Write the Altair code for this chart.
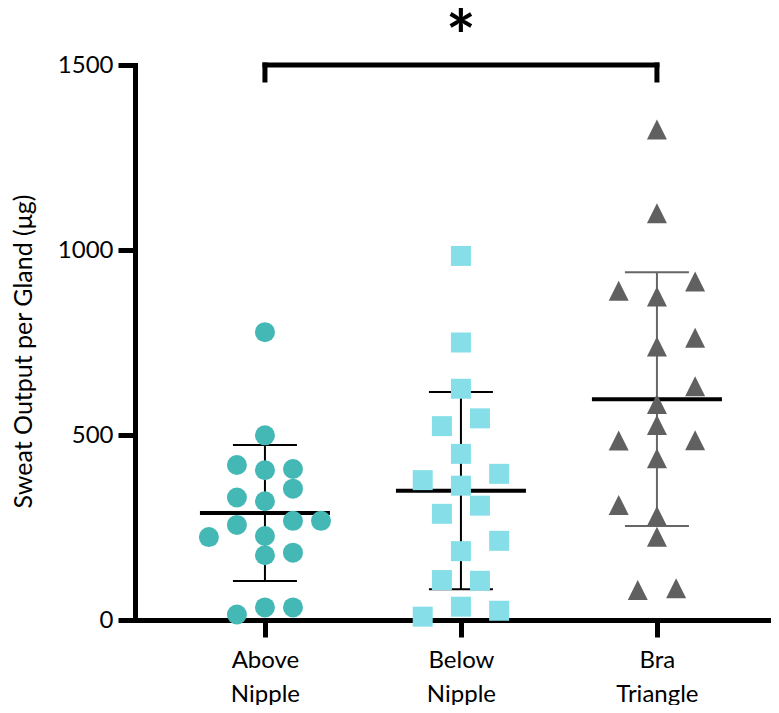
import altair as alt
import pandas as pd

groups = ["Above Nipple", "Below Nipple", "Bra Triangle"]
colors = ["#43B8B4", "#86DFE8", "#606060"]
bar_colors = ["#000000", "#000000", "#666666"]

above_vals = [778, 499, 419, 405, 408, 355, 331, 321, 257, 268, 268, 224, 227, 175, 182, 15, 34, 34]
above_jit = [0, 0, -0.143, 0, 0.143, 0.143, -0.143, 0, -0.143, 0.143, 0.286, -0.286, 0, 0, 0.143, -0.143, 0, 0.143]

below_vals = [984, 750, 625, 524, 545, 449, 378, 363, 395, 287, 309, 214, 186, 108, 106, 9, 36, 25]
below_jit = [0, 0, 0, -0.097, 0.097, 0, -0.195, 0, 0.195, -0.097, 0.097, 0.195, 0, -0.097, 0.097, -0.195, 0, 0.195]

bra_vals = [1326, 1099, 890, 915, 874, 763, 739, 632, 584, 527, 485, 486, 437, 311, 281, 225, 81, 86]
bra_jit = [0, 0, -0.195, 0.195, 0, 0.195, 0, 0.195, 0, 0, -0.195, 0.195, 0, -0.195, 0, 0, -0.098, 0.098]

sig_pair = [1, 3]
sig_level = 1500
sig_text = "*"

rows = []
for i, (g, vals, jits) in enumerate(zip(groups, [above_vals, below_vals, bra_vals], [above_jit, below_jit, bra_jit])):
    for v, j in zip(vals, jits):
        rows.append({"group": g, "idx": i + 1, "value": v, "xpos": i + 1 + j})
df = pd.DataFrame(rows)

bracket = pd.DataFrame([{"x1": sig_pair[0], "x2": sig_pair[1], "y": sig_level, "label": sig_text}])

label_expr = ""
for i, g in enumerate(groups):
    parts = g.split(" ")
    arr = "[" + ",".join("'" + p + "'" for p in parts) + "]"
    label_expr += f"datum.value == {i + 1} ? {arr} : "
label_expr += "''"

FONT = "Lato"

xscale = alt.Scale(domain=[0.337, 3.582], nice=False, zero=False)
yscale = alt.Scale(domain=[0, 1500], nice=False)

xaxis = alt.Axis(values=[1, 2, 3], labelExpr=label_expr, title=None, grid=False,
                 domainColor="black", domainWidth=5, domainCap="square",
                 tickColor="black", tickWidth=5, tickSize=17,
                 labelFont=FONT, labelFontSize=24, labelColor="black",
                 labelPadding=11, labelLineHeight=34, labelAlign="center")
yaxis = alt.Axis(values=[0, 500, 1000, 1500], format="d", title="Sweat Output per Gland (μg)", grid=False,
                 domainColor="black", domainWidth=5, domainCap="square",
                 tickColor="black", tickWidth=5, tickSize=17,
                 labelFont=FONT, labelFontSize=24, labelColor="black", labelPadding=5,
                 titleFont=FONT, titleFontSize=25, titleFontWeight="normal", titleColor="black",
                 titlePadding=21, titleY=286)

base = alt.Chart(df)

stats = base.transform_aggregate(
    mean="mean(value)", sd="stdev(value)", groupby=["group", "idx"]
).transform_calculate(lo="datum.mean - datum.sd", hi="datum.mean + datum.sd")

barcolor = alt.Color("group:N", scale=alt.Scale(domain=groups, range=bar_colors), legend=None)

err = stats.mark_rule(strokeWidth=2, opacity=1).encode(
    x=alt.X("idx:Q", scale=xscale, axis=xaxis),
    y=alt.Y("lo:Q", scale=yscale, axis=yaxis),
    y2="hi:Q",
    color=barcolor,
)

caps = stats.transform_fold(["lo", "hi"], as_=["which", "end"]).mark_tick(
    orient="horizontal", size=64, thickness=2, opacity=1
).encode(
    x=alt.X("idx:Q", scale=xscale),
    y=alt.Y("end:Q", scale=yscale),
    color=barcolor,
)

bars = alt.layer(err, caps)

means = stats.mark_tick(orient="horizontal", size=130, thickness=4, color="black", opacity=1).encode(
    x=alt.X("idx:Q", scale=xscale),
    y=alt.Y("mean:Q", scale=yscale),
)

points = base.mark_point(filled=True, opacity=1, size=400, strokeWidth=0).encode(
    x=alt.X("xpos:Q", scale=xscale),
    y=alt.Y("value:Q", scale=yscale),
    color=alt.Color("group:N", scale=alt.Scale(domain=groups, range=colors), legend=None),
    shape=alt.Shape("group:N", scale=alt.Scale(domain=groups, range=["circle", "square", "M0,-1L1,1L-1,1Z"]), legend=None),
)

bchart = alt.Chart(bracket)
bar_h = bchart.mark_rule(strokeWidth=5, color="black", strokeCap="square").encode(
    x=alt.X("x1:Q", scale=xscale), x2="x2:Q", y=alt.Y("y:Q", scale=yscale)
)
bar_v = bchart.transform_fold(["x1", "x2"], as_=["side", "xe"]).mark_rule(
    strokeWidth=5, color="black", strokeCap="square"
).encode(
    x=alt.X("xe:Q", scale=xscale), y=alt.Y("y:Q", scale=yscale), y2=alt.value(15)
)
star = bchart.transform_calculate(xm="(datum.x1 + datum.x2) / 2").mark_text(
    font=FONT, fontSize=70, fontWeight="bold", color="black", baseline="alphabetic", dy=-3
).encode(
    x=alt.X("xm:Q", scale=xscale), y=alt.Y("y:Q", scale=yscale), text="label:N"
)

chart = alt.layer(bars, means, points, bar_h, bar_v, star).resolve_scale(
    color="independent"
).properties(
    width=636, height=555,
    background="white",
    autosize=alt.AutoSizeParams(type="none"),
    padding={"left": 127, "top": 57, "right": 0, "bottom": 85},
).configure_view(stroke="transparent", strokeWidth=0).configure_axis(grid=False)

chart.save("out.html", embed_options={"renderer": "svg", "actions": False})
